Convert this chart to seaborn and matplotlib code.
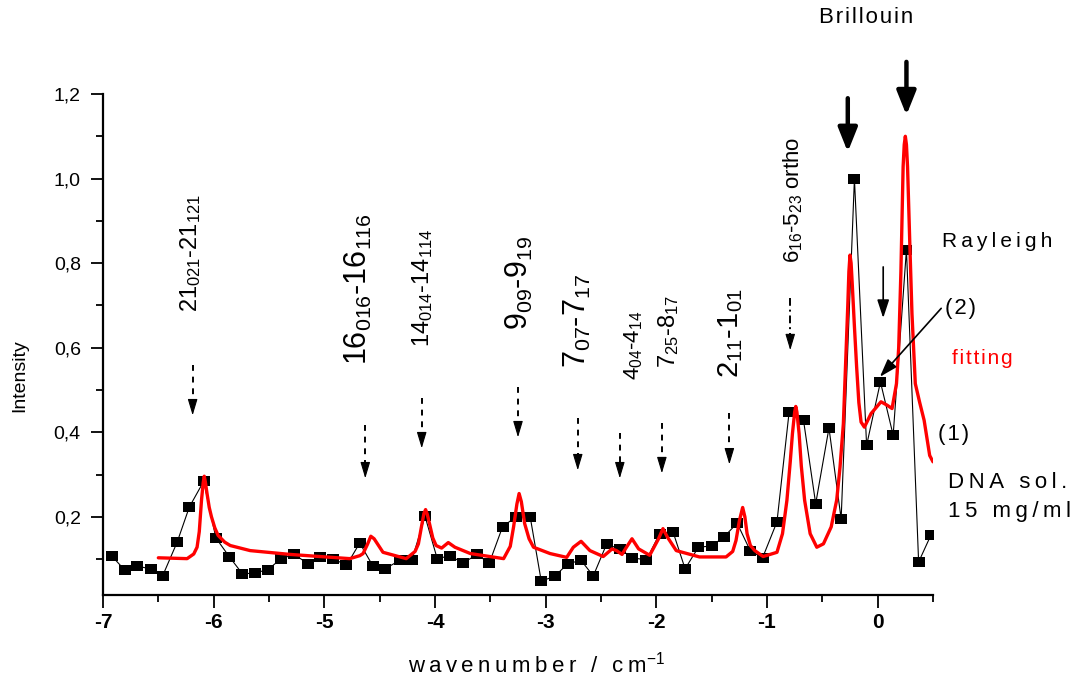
import matplotlib
matplotlib.use("Agg")
import matplotlib.pyplot as plt
import seaborn as sns
import pandas as pd

# measured spectrum (black squares)
wavenumber = [-6.92, -6.80, -6.69, -6.57, -6.46, -6.33, -6.22, -6.09, -5.98, -5.86,
              -5.74, -5.63, -5.51, -5.39, -5.27, -5.15, -5.04, -4.92, -4.80, -4.68,
              -4.56, -4.45, -4.32, -4.21, -4.09, -3.98, -3.86, -3.75, -3.62, -3.51,
              -3.39, -3.27, -3.14, -3.04, -2.92, -2.80, -2.68, -2.57, -2.45, -2.33,
              -2.22, -2.09, -1.97, -1.85, -1.74, -1.62, -1.50, -1.39, -1.27, -1.15,
              -1.04, -0.91, -0.80, -0.67, -0.56, -0.44, -0.33, -0.21, -0.10, 0.025,
              0.14, 0.26, 0.37, 0.48]
intensity = [0.107, 0.073, 0.083, 0.077, 0.061, 0.140, 0.223, 0.284, 0.150, 0.106,
             0.065, 0.067, 0.075, 0.101, 0.111, 0.089, 0.106, 0.101, 0.085, 0.138,
             0.083, 0.077, 0.097, 0.097, 0.201, 0.101, 0.108, 0.090, 0.111, 0.090,
             0.176, 0.200, 0.200, 0.048, 0.059, 0.089, 0.097, 0.060, 0.135, 0.124,
             0.103, 0.098, 0.160, 0.165, 0.077, 0.128, 0.131, 0.152, 0.185, 0.119,
             0.103, 0.188, 0.448, 0.428, 0.231, 0.410, 0.195, 1.000, 0.369, 0.519,
             0.393, 0.832, 0.093, 0.156]

# fitted curve (red)
fit_x = [-6.50, -6.24, -6.18, -6.15, -6.13, -6.11, -6.095, -6.085, -6.075, -6.06,
         -6.04, -6.02, -5.99, -5.96, -5.90, -5.85, -5.67, -5.31, -4.77, -4.68,
         -4.65, -4.61, -4.58, -4.55, -4.53, -4.47, -4.26, -4.18, -4.15, -4.12,
         -4.10, -4.085, -4.07, -4.05, -4.02, -3.99, -3.94, -3.88, -3.82, -3.68,
         -3.38, -3.32, -3.29, -3.26, -3.24, -3.22, -3.19, -3.15, -3.11, -2.96,
         -2.81, -2.75, -2.68, -2.60, -2.48, -2.40, -2.36, -2.31, -2.27, -2.22,
         -2.16, -2.06, -1.98, -1.94, -1.90, -1.82, -1.61, -1.37, -1.31, -1.28,
         -1.25, -1.22, -1.20, -1.18, -1.15, -1.11, -1.035, -0.91, -0.86, -0.82,
         -0.79, -0.77, -0.75, -0.74, -0.73, -0.71, -0.69, -0.66, -0.61, -0.55,
         -0.49, -0.42, -0.37, -0.34, -0.31, -0.29, -0.27, -0.26, -0.25, -0.24,
         -0.23, -0.21, -0.19, -0.17, -0.15, -0.12, -0.06, 0.03, 0.085, 0.13,
         0.17, 0.19, 0.21, 0.23, 0.24, 0.25, 0.26, 0.27, 0.29, 0.31,
         0.34, 0.38, 0.42, 0.47, 0.50]
fit_y = [0.103, 0.101, 0.112, 0.128, 0.165, 0.239, 0.280, 0.296, 0.282, 0.255,
         0.222, 0.200, 0.174, 0.156, 0.140, 0.132, 0.120, 0.111, 0.101, 0.108,
         0.113, 0.135, 0.154, 0.148, 0.140, 0.116, 0.101, 0.118, 0.136, 0.180,
         0.208, 0.217, 0.206, 0.184, 0.150, 0.132, 0.126, 0.139, 0.128, 0.113,
         0.101, 0.130, 0.176, 0.230, 0.255, 0.236, 0.184, 0.148, 0.128, 0.113,
         0.104, 0.128, 0.142, 0.120, 0.106, 0.124, 0.120, 0.111, 0.128, 0.148,
         0.124, 0.109, 0.148, 0.172, 0.152, 0.120, 0.105, 0.105, 0.118, 0.144,
         0.190, 0.222, 0.200, 0.160, 0.132, 0.120, 0.106, 0.116, 0.160, 0.239,
         0.330, 0.397, 0.448, 0.461, 0.448, 0.397, 0.320, 0.239, 0.160, 0.128,
         0.136, 0.176, 0.240, 0.318, 0.420, 0.560, 0.700, 0.780, 0.819, 0.800,
         0.752, 0.650, 0.554, 0.470, 0.424, 0.412, 0.444, 0.472, 0.464, 0.456,
         0.515, 0.600, 0.780, 1.028, 1.080, 1.100, 1.080, 1.028, 0.850, 0.680,
         0.515, 0.470, 0.428, 0.345, 0.330]

# rotational transition labels
line_labels = [r"21_{021}\text{-}21_{121}", r"16_{016}\text{-}16_{116}",
               r"14_{014}\text{-}14_{114}", r"9_{09}\text{-}9_{19}",
               r"7_{07}\text{-}7_{17}", r"4_{04}\text{-}4_{14}",
               r"7_{25}\text{-}8_{17}", r"2_{11}\text{-}1_{01}",
               r"6_{16}\text{-}5_{23}\text{ ortho}"]
label_x = [-6.205, -4.696, -4.114, -3.233, -2.714, -2.203, -1.887, -1.331, -0.767]
label_y = [0.684, 0.558, 0.601, 0.641, 0.551, 0.523, 0.551, 0.528, 0.800]
label_size = [17, 22, 17, 22, 22, 16, 17, 21, 16]

# dashed marker arrows under the labels
arrow_x = [-6.19, -4.63, -4.12, -3.25, -2.71, -2.33, -1.95, -1.34, -0.79]
arrow_top = [0.558, 0.416, 0.480, 0.506, 0.433, 0.397, 0.421, 0.445, 0.717]
arrow_tip = [0.440, 0.291, 0.362, 0.388, 0.310, 0.291, 0.303, 0.324, 0.594]

xtick_values = [-7, -6, -5, -4, -3, -2, -1, 0]
xtick_labels = ["-7", "-6", "-5", "-4", "-3", "-2", "-1", "0"]
ytick_values = [0.2, 0.4, 0.6, 0.8, 1.0, 1.2]
ytick_labels = ["0,2", "0,4", "0,6", "0,8", "1,0", "1,2"]

sns.set_theme(style="ticks")
plt.rcParams["font.family"] = ["Liberation Sans", "DejaVu Sans"]
plt.rcParams["mathtext.fontset"] = "custom"
plt.rcParams["mathtext.rm"] = "Liberation Sans"
plt.rcParams["mathtext.it"] = "Liberation Sans:italic"
plt.rcParams["mathtext.bf"] = "Liberation Sans:bold"

W, H = 1077, 688
fig = plt.figure(figsize=(W / 100, H / 100), dpi=100)
fig.patch.set_facecolor("white")
ax = fig.add_axes([103 / W, 1 - 595 / H, (933 - 103) / W, (595 - 94) / H])
ax.set_facecolor("white")

spec = pd.DataFrame({"wavenumber": wavenumber, "intensity": intensity})
fit = pd.DataFrame({"wavenumber": fit_x, "intensity": fit_y})

rect = [(-1.0, -0.72), (1.0, -0.72), (1.0, 0.72), (-1.0, 0.72), (-1.0, -0.72)]
sns.lineplot(data=spec, x="wavenumber", y="intensity", ax=ax, color="black",
             lw=0.8, marker=rect, markersize=9.2, markeredgewidth=0,
             markerfacecolor="black", estimator=None, sort=False, zorder=2)
sns.lineplot(data=fit, x="wavenumber", y="intensity", ax=ax, color="#ff0000",
             lw=2.4, estimator=None, sort=False, zorder=3,
             solid_joinstyle="round")

ax.set_xlim(-7, 0.5)
ax.set_ylim(0.015, 1.2)
ax.set_xlabel("")
ax.set_ylabel("")

ax.set_xticks(xtick_values)
ax.set_xticklabels(xtick_labels, fontsize=15, fontweight="bold")
ax.set_xticks([-6.5, -5.5, -4.5, -3.5, -2.5, -1.5, -0.5, 0.5], minor=True)
ax.set_yticks(ytick_values)
ax.set_yticklabels(ytick_labels, fontsize=14)
ax.set_yticks([0.1, 0.3, 0.5, 0.7, 0.9, 1.1], minor=True)
ax.tick_params(which="major", length=9, width=1.3, direction="out",
               color="black", labelcolor="black")
ax.tick_params(which="minor", length=5, width=1.3, direction="out", color="black")
ax.tick_params(axis="y", pad=7)
ax.tick_params(axis="x", pad=4)
for side in ("top", "right"):
    ax.spines[side].set_visible(False)
for side in ("left", "bottom"):
    ax.spines[side].set_linewidth(1.6)
    ax.spines[side].set_color("black")


def spaced(s, gap="\u2009"):
    return gap.join(s)


def head(x, tip, hl=0.034, lw=0.8, hw=0.3, hlen=1.0):
    ax.annotate("", xy=(x, tip), xytext=(x, tip + hl), annotation_clip=False,
                arrowprops=dict(arrowstyle=f"-|>,head_length={hlen},head_width={hw}",
                                lw=lw, color="black", mutation_scale=10,
                                shrinkA=0, shrinkB=0))


# axis titles
fig.text(537 / W, 1 - 665 / H,
         spaced("wavenumber / cm") + r"$^{\mathregular{-1}}$",
         ha="center", va="center", fontsize=16, color="black")
fig.text(20 / W, 1 - 376 / H, "Intensity", rotation=90, ha="center",
         va="center", fontsize=14, color="black")

# transition labels and their dashed arrows
for txt, lx, ly, fs in zip(line_labels, label_x, label_y, label_size):
    ax.text(lx, ly, r"$\mathregular{" + txt + "}$", rotation=90, ha="center",
            va="bottom", fontsize=fs, color="black")

for i, (x, y0, y1) in enumerate(zip(arrow_x, arrow_top, arrow_tip)):
    ls = (0, (4, 2, 1, 2)) if i == len(arrow_x) - 1 else (0, (3, 3))
    ax.plot([x, x], [y0, y1 + 0.03], color="black", lw=1.4, ls=ls,
            solid_capstyle="butt", dash_capstyle="butt", clip_on=False)
    head(x, y1)

# Brillouin arrows
for x, y0, y1 in [(-0.27, 1.19, 1.063), (0.26, 1.276, 1.15)]:
    ax.annotate("", xy=(x, y1), xytext=(x, y0), annotation_clip=False,
                arrowprops=dict(arrowstyle="-|>,head_length=1.45,head_width=0.58",
                                lw=3.2, color="black", mutation_scale=10,
                                shrinkA=0, shrinkB=0))

# Rayleigh arrow and pointer to component (2)
ax.annotate("", xy=(0.05, 0.67), xytext=(0.05, 0.791), annotation_clip=False,
            arrowprops=dict(arrowstyle="-|>,head_length=1.1,head_width=0.36",
                            lw=1.2, color="black", mutation_scale=10,
                            shrinkA=0, shrinkB=0))
ax.annotate("", xy=(0.02, 0.531), xytext=(0.574, 0.693), annotation_clip=False,
            arrowprops=dict(arrowstyle="-|>,head_length=1.1,head_width=0.36",
                            lw=1.2, color="black", mutation_scale=10,
                            shrinkA=0, shrinkB=0))

ax.text(-0.107, 1.38, spaced("Brillouin", "\u200a"), ha="center", va="center",
        fontsize=16, color="black")
ax.text(0.579, 0.85, spaced("Rayleigh"), ha="left", va="center",
        fontsize=15, color="black")
ax.text(0.606, 0.693, spaced("(2)", "\u200a"), ha="left", va="center",
        fontsize=16, color="black")
ax.text(0.669, 0.575, spaced("fitting", "\u200a"), ha="left", va="center",
        fontsize=15, color="#ff0000")
ax.text(0.543, 0.395, spaced("(1)", "\u200a"), ha="left", va="center",
        fontsize=16, color="black")
ax.text(0.633, 0.281, spaced("DNA sol."), ha="left", va="center",
        fontsize=16, color="black")
ax.text(0.633, 0.213, spaced("15 mg/ml"), ha="left", va="center",
        fontsize=16, color="black")

fig.savefig("out.png", dpi=100, facecolor="white")
